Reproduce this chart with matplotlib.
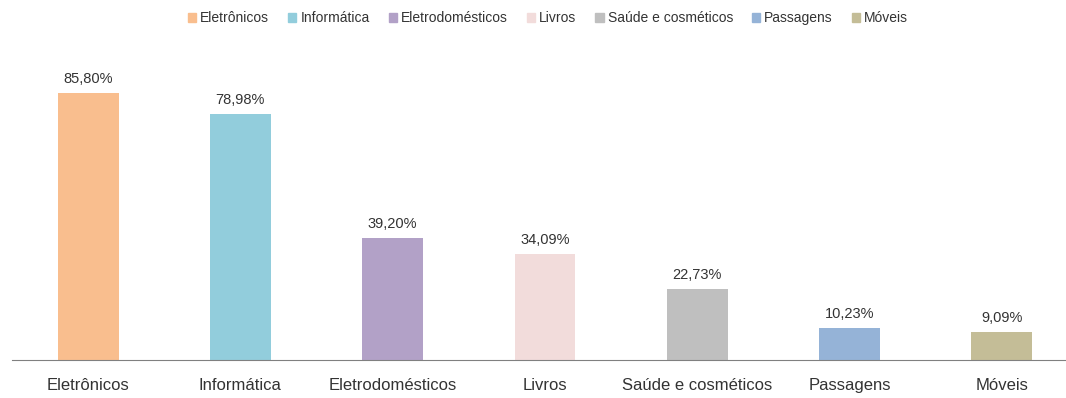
import matplotlib.pyplot as plt
from matplotlib.patches import Patch

# data
categories = ["Eletrônicos", "Informática", "Eletrodomésticos", "Livros",
              "Saúde e cosméticos", "Passagens", "Móveis"]
values = [85.80, 78.98, 39.20, 34.09, 22.73, 10.23, 9.09]
colors = ["#F9BE8E", "#92CDDC", "#B2A1C7", "#F2DCDB",
          "#BFBFBF", "#95B3D7", "#C4BD97"]

plt.rcParams['font.family'] = ['Liberation Sans', 'DejaVu Sans']
txt = "#333333"

fig = plt.figure(figsize=(10.66, 3.98), dpi=100)
ax = fig.add_axes([12 / 1066, 38 / 398, 1.0, 311 / 398])

x = list(range(len(categories)))
bars = ax.bar(x, values, width=0.4, color=colors)

for xi, v in zip(x, values):
    ax.text(xi, v + 2.3, f"{v:.2f}%".replace(".", ","), ha="center",
            va="bottom", fontsize=10.5, color=txt)

ax.set_xlim(-0.5, 6.5)
ax.set_ylim(0, 100)
ax.set_xticks(x)
ax.set_xticklabels(categories, fontsize=12, color=txt)
ax.tick_params(axis="x", length=0, pad=13)
ax.set_yticks([])
for s in ["top", "right", "left"]:
    ax.spines[s].set_visible(False)
ax.spines["bottom"].set_color("#808080")

#legend at the top
handles = [Patch(color=c, label=l) for c, l in zip(colors, categories)]
fig.legend(handles=handles, loc="center", bbox_to_anchor=(548 / 1066, 1 - 18 / 398),
           ncol=7, frameon=False, fontsize=10, handlelength=0.6, handleheight=0.6,
           handletextpad=0.3, columnspacing=1.35, labelcolor=txt)

fig.savefig("out.png", dpi=100)
